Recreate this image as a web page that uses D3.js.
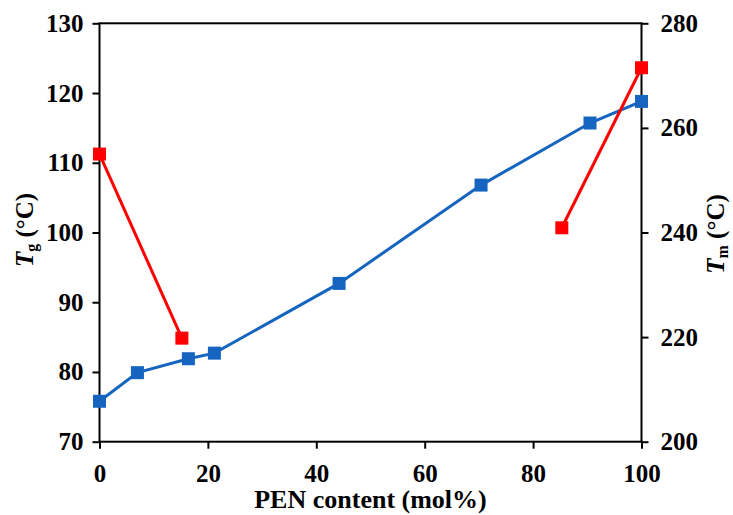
<!DOCTYPE html>
<html>
<head>
<meta charset="utf-8">
<script src="https://cdn.jsdelivr.net/npm/d3@7"></script>
<style>
  body { margin: 0; background: #fff; }
  text { font-family: "Liberation Serif", "Times New Roman", serif; font-weight: bold; }
</style>
</head>
<body>
<div id="chart"></div>
<script>
// PEN content (mol%) and glass transition temperature Tg (°C), left axis
const penTg = [0, 7, 16.4, 21.2, 44.2, 70.4, 90.5, 100]
const tgValues = [75.8, 79.9, 81.9, 82.7, 92.7, 106.8, 115.7, 118.8]

// PEN content (mol%) and melting temperature Tm (°C), right axis
// the Tm curve is split in two runs (PET-rich and PEN-rich side)
const penTm = [0, 15.2, 85.3, 100]
const tmValues = [255, 219.8, 240.9, 271.5]
const tmRun = ['pet', 'pet', 'pen', 'pen']

const xTicks = [0, 20, 40, 60, 80, 100]
const tgTicks = [70, 80, 90, 100, 110, 120, 130]
const tmTicks = [200, 220, 240, 260, 280]

const width = 733
const height = 515
const margin = { top: 23.3, right: 91.5, bottom: 73.3, left: 99.5 }
const innerW = width - margin.left - margin.right
const innerH = height - margin.top - margin.bottom

const BLUE = '#1565c0'
const RED = '#ff0000'

const svg = d3.select('#chart')
  .append('svg')
  .attr('width', width)
  .attr('height', height)

const g = svg.append('g')
  .attr('transform', `translate(${margin.left},${margin.top})`)

const x = d3.scaleLinear().domain([0, 100]).range([0, innerW])
const yTg = d3.scaleLinear().domain([70, 130]).range([innerH, 0])
const yTm = d3.scaleLinear().domain([200, 280]).range([innerH, 0])

// Axes
function styleAxis(sel) {
  sel.select('.domain').remove()
  sel.selectAll('.tick line').attr('stroke', '#000').attr('stroke-width', 2)
  sel.selectAll('.tick text')
    .attr('fill', '#000')
    .style('font-size', '25px')
    .style('font-family', '"Liberation Serif", serif')
    .style('font-weight', 'bold')
}

g.append('g')
  .attr('transform', `translate(0,${innerH})`)
  .call(d3.axisBottom(x).tickValues(xTicks).tickSize(7).tickPadding(16))
  .call(styleAxis)

g.append('g')
  .call(d3.axisLeft(yTg).tickValues(tgTicks).tickSize(7).tickPadding(9))
  .call(styleAxis)

g.append('g')
  .attr('transform', `translate(${innerW},0)`)
  .call(d3.axisRight(yTm).tickValues(tmTicks).tickSize(7).tickPadding(12))
  .call(styleAxis)

// Plot frame
g.append('rect')
  .attr('width', innerW)
  .attr('height', innerH)
  .attr('fill', 'none')
  .attr('stroke', '#000')
  .attr('stroke-width', 2)

// Tg series (blue)
const tgData = penTg.map((p, i) => ({ x: p, y: tgValues[i] }))

g.append('path')
  .datum(tgData)
  .attr('fill', 'none')
  .attr('stroke', BLUE)
  .attr('stroke-width', 3)
  .attr('d', d3.line().x(d => x(d.x)).y(d => yTg(d.y)))

const size = 13
g.selectAll('.tg-mark')
  .data(tgData)
  .join('rect')
  .attr('class', 'tg-mark')
  .attr('x', d => x(d.x) - size / 2)
  .attr('y', d => yTg(d.y) - size / 2)
  .attr('width', size)
  .attr('height', size)
  .attr('fill', BLUE)

// Tm series (red), drawn on top
const tmData = penTm.map((p, i) => ({ x: p, y: tmValues[i], run: tmRun[i] }))
const tmLine = d3.line().x(d => x(d.x)).y(d => yTm(d.y))

d3.group(tmData, d => d.run).forEach(run => {
  g.append('path')
    .datum(run)
    .attr('fill', 'none')
    .attr('stroke', RED)
    .attr('stroke-width', 3)
    .attr('d', tmLine)
})

g.selectAll('.tm-mark')
  .data(tmData)
  .join('rect')
  .attr('class', 'tm-mark')
  .attr('x', d => x(d.x) - size / 2)
  .attr('y', d => yTm(d.y) - size / 2)
  .attr('width', size)
  .attr('height', size)
  .attr('fill', RED)

// Axis titles
svg.append('text')
  .attr('x', margin.left + innerW / 2)
  .attr('y', 508)
  .attr('text-anchor', 'middle')
  .style('font-size', '26px')
  .text('PEN content (mol%)')

function yTitle(xPos, yPos, sub) {
  const t = svg.append('text')
    .attr('transform', `translate(${xPos},${yPos}) rotate(-90)`)
    .attr('text-anchor', 'middle')
    .style('font-size', '25px')
  t.append('tspan').style('font-style', 'italic').text('T')
  t.append('tspan').attr('dy', 4).style('font-size', '16px').text(sub)
  t.append('tspan').attr('dy', -4).text(' (°C)')
}

yTitle(33, 230, 'g')
yTitle(724, 234, 'm')
</script>
</body>
</html>
